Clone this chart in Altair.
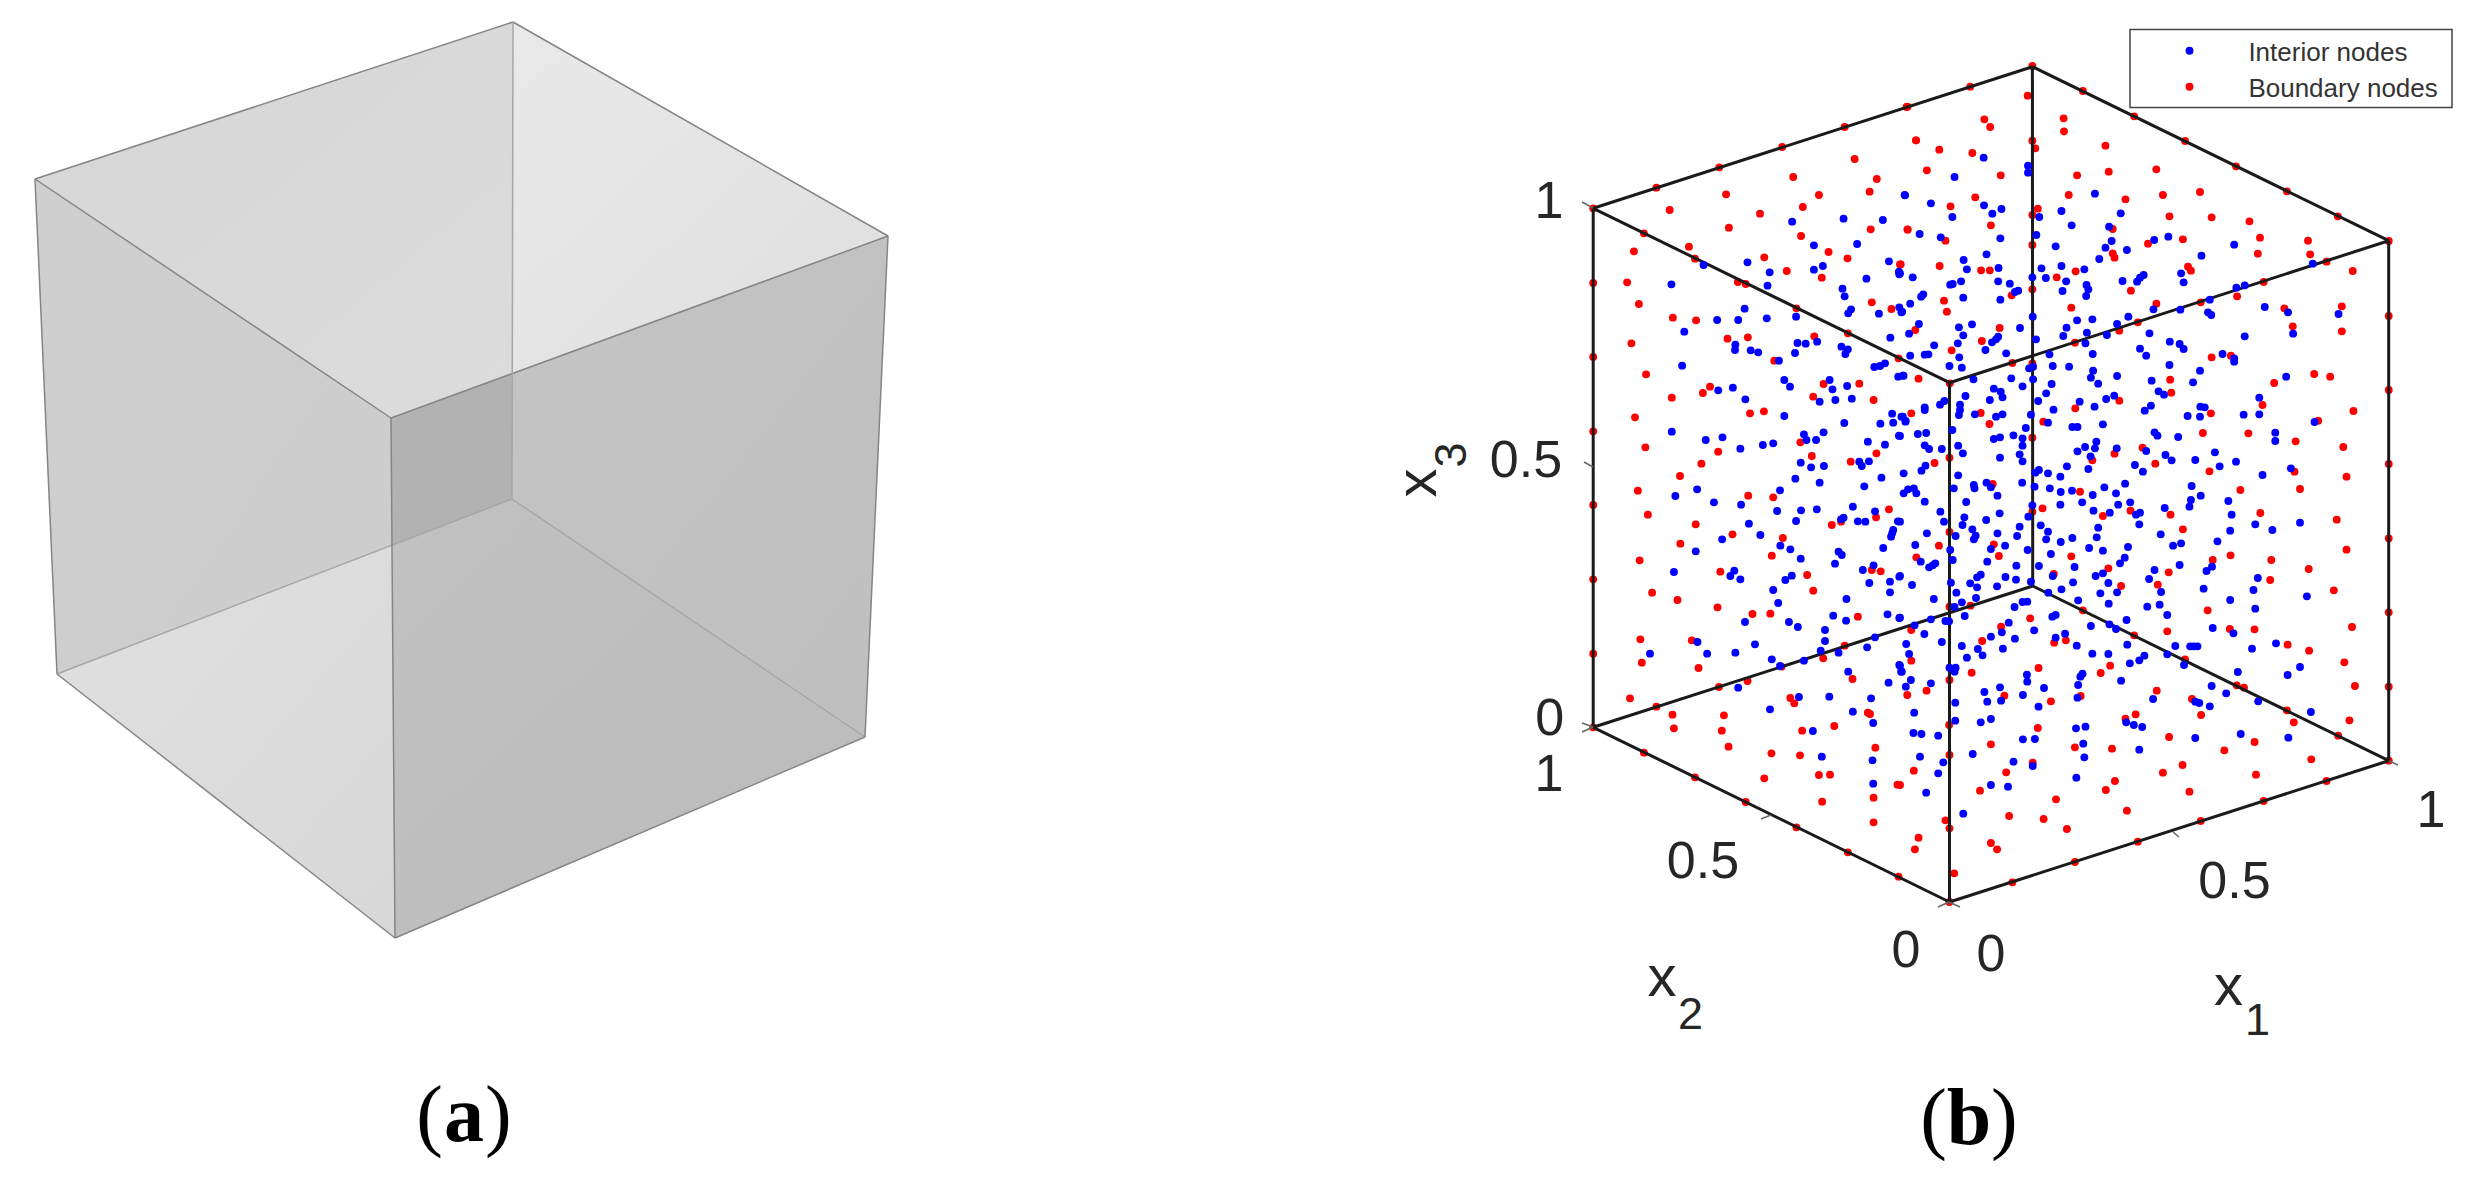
import altair as alt
import pandas as pd

# ---- points read from four enlarged views of the right-hand panel
red_a = [(653,625),(830,563),(1006,502),(1182,441),(1357,381),(795,700),(938,776),(1080,852),(1222,925),(1366,1000),(1508,1075),(653,849),(653,1071),(653,1294),(1533,320),
(1385,477),(1213,531),(1447,537),(1025,583),(1285,585),(1427,575),(1240,621),(867,630),(1120,641),(1033,683),(1235,708),(1430,688),(1533,688),(921,740),(767,754),(1312,756),(1132,772),(1365,775),(1512,793),(1195,813),(1293,833),(748,847),(1058,846),(781,912),(1433,907),(1488,927),(876,953),(941,961),(1272,1009),(1029,1016),(1086,1012),(760,1030),(1160,1082),(801,1123),(1398,1151),(1298,1152),(980,1160),(960,1179),(873,1193),(1269,1190),(1438,1200),(1092,1240),(1131,1234),(770,1252),(799,1342),(1233,1327),(1003,1355),(1265,1368),(1446,1360),(956,1391),(1374,1385),(896,1428),(1557,421)]
blue_a = [(1525,585),(1210,665),(1354,656),(1464,660),(1271,736),(1392,732),(1085,787),(962,795),(1296,798),(1271,809),(1147,817),(1481,784),(1509,815),(1510,823),(1418,836),(872,853),(1141,857),(1351,866),(1357,889),(1077,926),(1375,928),(1367,940),(1510,922),(1516,937),(1453,941),(1221,950),(1000,960),(1059,960),(1139,955),(908,995),(1485,1013),(1280,1025),(1225,1029),(1248,1031),(1051,1034),(1050,1050),(1094,1051),(1115,1057),(1348,1040),(1366,1048),(1359,1062),(1218,1059),(1173,1082),(902,1097),(1440,1101),(1456,1098),(1470,1090),(1507,1130),(1522,1127),(1315,1140),(1188,1140),(1204,1160),(1364,1158),(1323,1168),(1044,1163),(1003,1171),(1079,1198),(1331,1200),(1377,1196),(1287,1205),(1188,1248),(1490,1241),(1520,1250),(1528,1263),(1493,1268),(1457,1271),(1356,1269),(1509,1307),(873,1295),(1243,1303),(1298,1297),(1015,1312),(968,1320),(1250,1320),(1277,1320),(1422,1325),(1470,1334),(1128,1335),(1157,1330),(1065,1346),(1234,1388),(1398,1385),(1425,1384),(1405,1398),(1263,1402),(1299,1398),(1219,1436),(1460,1433)]
red_b = [(18,321),(193,260),(364,198),(503,273),(644,349),(784,423),(924,499),(1064,574),(1204,649),(1344,723),(1173,785),(1000,846),(827,907),(654,967),(481,1028),(309,1089),(137,1150),(1344,948),(1344,1170),(1344,1392),(364,422),(364,645),(364,868),(364,1090),(364,1313),(136,1373),
(351,287),(232,358),(248,381),(450,355),(451,394),(44,421),(108,449),(199,459),(372,445),(565,437),(74,511),(277,526),(487,526),(574,515),(705,508),(464,585),(723,585),(825,576),(207,592),(139,619),(620,598),(379,626),(741,649),(857,652),(961,664),(250,676),(21,689),(585,687),(990,713),(125,722),(1122,722),(778,718),(682,731),(364,735),(1128,763),(984,761),(585,760),(590,773),(1245,813),(109,798),(2,793),(223,811),(247,811),(483,814),(431,832),(792,800),(800,812),(635,872),(307,886),(121,902),(927,889),(705,911),(129,935),(471,923),(1215,919),(1057,925),(274,984),(42,990),(1080,979),(1215,994),(603,992),(225,1023),(142,1051),(857,1072),(910,1067),(1139,1122),(1183,1130),(51,1136),(743,1139),(1029,1149),(746,1178),(603,1202),(997,1215),(482,1225),(855,1240),(31,1240),(222,1239),(1247,1233),(246,1272),(394,1265),(1150,1262),(833,1299),(958,1300),(1088,1324),(1219,1341),(667,1343),(590,1361),(529,1381),(95,1389),(702,1391),(851,1414),(1085,1415),(1228,1430)]
blue_b = [(230,473),(352,497),(352,518),(150,531),(14,586),(536,581),(85,610),(231,616),(279,627),(254,641),(144,651),(444,633),(607,640),(383,651),(472,676),(575,680),(54,702),(112,712),(276,715),(375,705),(582,723),(699,720),(738,710),(428,739),(565,743),(624,750),(919,734),(238,763),(175,780),(548,777),(829,767),(1135,791),(389,805),(444,798),(507,808),(184,808),(271,804),(0,820),(35,832),(364,832),(401,834),(457,844),(612,843),(773,820),(780,847),(670,825),(660,833),(652,845),(270,844),(302,851),(168,844),(145,852),(138,854),(513,855),(518,868),(325,872),(316,876),(447,873),(512,888),(64,883),(58,890),(174,893),(276,899),(925,863),(948,856),(852,899),(28,911),(6,935),(697,928),(771,929),(1003,921),(1067,937),(847,937),(856,945),(1206,942),(365,950),(628,950),(487,961),(529,958),(597,972),(198,973),(52,972),(162,982),(330,984),(458,983),(25,1001),(174,1006),(514,998),(449,1008),(569,1005),(686,1000),(1081,1001),(948,1009),(270,1010),(264,1018),(253,1027),(374,1018),(159,1030),(94,1036),(510,1030),(742,1025),(769,1032),(780,1047),(660,1046),(235,1050),(292,1060),(411,1063),(530,1062),(28,1067),(68,1064),(78,1063),(163,1072),(677,1067),(887,1062),(919,1075),(919,1085),(136,1098),(170,1103),(355,1105),(366,1100),(420,1098),(465,1100),(741,1095),(531,1112),(825,1112),(525,1133),(597,1128),(8,1127),(202,1138),(306,1135),(366,1138),(1062,1130),(692,1142),(806,1147),(545,1151),(417,1152),(337,1159),(258,1166),(277,1175),(711,1174),(726,1184),(402,1180),(180,1188),(282,1192),(988,1193),(247,1200),(589,1187),(567,1197),(122,1203),(494,1205),(380,1203),(110,1214),(165,1214),(68,1222),(68,1230),(165,1230),(690,1217),(673,1232),(535,1220),(422,1229),(826,1220),(838,1222),(162,1245),(206,1243),(282,1243),(264,1250),(360,1244),(791,1248),(825,1250),(945,1244),(988,1243),(4,1250),(15,1265),(1140,1266),(407,1268),(474,1281),(488,1281),(558,1273),(346,1284),(144,1290),(49,1302),(72,1299),(700,1297),(708,1307),(765,1311),(1032,1298),(1032,1323),(258,1317),(275,1312),(312,1306),(337,1315),(337,1337),(540,1325),(0,1308),(68,1336),(80,1347),(160,1337),(115,1347),(509,1341),(596,1345),(536,1345),(488,1354),(677,1353),(866,1357),(173,1360),(329,1363),(524,1369),(275,1373),(730,1365),(747,1381),(337,1384),(812,1380),(924,1385),(70,1397),(59,1412),(646,1395),(879,1399),(459,1399),(518,1407),(1075,1405),(382,1410),(372,1418),(407,1420),(668,1415),(10,1420),(160,1426),(997,1425),(441,1430)]
red_c = [(653,75),(653,298),(653,521),(653,742),(778,32),(1087,47),(1157,52),(806,104),(1481,88),(1445,112),(1321,135),(1347,125),(940,133),(1043,163),(1184,174),(897,191),(1153,227),(783,241),(1009,275),(1433,270),(1458,274),(1252,285),(818,338),(889,360),(1269,332),(1001,382),(1099,402),(1149,401),(1394,410),(785,478),(929,481),(1357,497),(789,548),(948,564),(1297,535),(1180,560),(1005,621),(1085,603),(1379,597),(1205,654),(1216,670),(756,655),(830,680),(875,704),(1019,706),(1422,698),(1428,702),(879,745),(1013,752),(1238,752),(1328,738),(795,818),(1032,800),(1443,803),(1152,820),(1232,826),(1285,885),(1316,884),(1132,895),(938,892),(1505,914),(1438,953),(1294,965),(1080,966),(1438,1027),(1222,1042),(1366,1117),(1508,1190)]
blue_c = [(1287,8),(1412,19),(1176,31),(944,28),(883,48),(991,67),(1067,74),(1380,80),(1168,93),(1235,91),(1279,88),(1442,94),(1221,123),(1089,131),(1121,165),(1347,118),(1354,113),(1394,124),(1415,125),(1506,124),(1493,150),(1490,160),(1487,170),(1014,178),(1177,197),(1205,208),(1465,204),(940,214),(1234,236),(1340,215),(1349,225),(1330,251),(879,276),(1438,256),(1408,270),(1048,272),(1037,288),(1065,298),(1209,287),(1191,300),(1426,309),(1484,305),(1510,290),(1157,330),(1484,337),(1362,357),(1171,369),(1325,407),(1477,403),(1510,414),(1361,422),(1078,426),(1201,426),(1226,441),(1302,450),(1442,472),(1302,483),(945,486),(1106,493),(1420,502),(1290,512),(812,521),(972,521),(1051,518),(1340,518),(1153,538),(1243,542),(1176,558),(1367,575),(1510,555),(1515,575),(1480,608),(1059,623),(1229,651),(1314,650),(1431,655),(1148,688),(1380,695),(1437,729),(1268,753),(1293,830),(1435,841),(1437,911)]
red_d = [(1100,27),(936,30),(495,35),(255,12),(392,85),(364,95),(634,92),(558,108),(744,104),(991,99),(1201,119),(778,148),(136,156),(107,197),(258,193),(1228,209),(272,228),(471,229),(909,226),(1021,240),(860,240),(45,232),(1124,267),(573,265),(739,277),(423,282),(1018,300),(608,318),(709,314),(1193,331),(136,380),(194,377),(503,391),(846,391),(1344,175),(1344,397),(1344,620),(358,415),(278,440),(31,450),(644,466),(735,454),(907,447),(975,448),(1243,441),(226,483),(424,488),(456,481),(1066,494),(1125,512),(31,542),(784,538),(381,564),(578,557),(552,579),(1222,547),(197,578),(136,600),(926,616),(946,623),(1251,618),(73,632),(20,645),(287,647),(497,648),(706,632),(803,657),(415,664),(1064,691),(648,703),(620,716),(828,705),(1083,727),(1236,721),(135,735),(379,744),(740,771),(1205,767),(975,786),(250,793),(481,802),(583,806),(892,811),(136,825),(1131,838),(365,848),(777,855),(38,872),(292,877),(723,878),(979,884),(0,915),(591,903),(566,930),(220,932),(796,935),(429,958),(624,992),(300,1008),(395,1017),(125,1021),(136,1045),(459,1047),(51,1073),(41,1108),(250,1089),(267,1108),(827,1023),(654,1085),(481,1146),(309,1207),(1000,963),(1173,903),(149,1180),(136,1266),(1344,842)]
blue_d = [(10,40),(22,28),(38,25),(45,40),(68,65),(148,25),(203,15),(205,25),(238,8),(250,22),(268,47),(182,66),(336,8),(370,20),(412,25),(442,36),(473,32),(530,45),(562,22),(594,40),(619,11),(802,18),(827,47),(800,60),(796,80),(903,63),(728,84),(600,74),(633,67),(501,67),(441,74),(364,76),(532,92),(577,98),(649,104),(660,98),(111,95),(121,125),(177,112),(172,135),(274,100),(237,120),(353,110),(912,104),(658,133),(387,136),(977,133),(1100,128),(1024,150),(908,152),(199,148),(545,143),(407,155),(0,125),(74,160),(153,168),(208,167),(203,178),(268,160),(322,168),(329,140),(717,163),(402,178),(442,186),(474,174),(541,172),(873,184),(42,195),(138,210),(250,207),(289,197),(351,210),(415,222),(520,204),(558,212),(627,201),(751,197),(773,190),(240,245),(145,240),(57,245),(80,262),(90,256),(97,250),(320,257),(382,258),(480,261),(618,233),(605,250),(769,255),(858,260),(843,273),(700,270),(420,288),(222,284),(212,292),(290,291),(319,299),(538,288),(558,280),(685,297),(984,294),(0,288),(140,308),(193,310),(360,305),(476,307),(573,309),(33,315),(212,322),(267,319),(444,328),(835,326),(972,330),(718,336),(155,338),(408,338),(551,340),(597,337),(1119,349),(93,357),(209,354),(490,361),(908,360),(714,374),(574,371),(680,380),(977,386),(315,381),(337,366),(350,365),(170,367),(150,381),(735,405),(85,418),(178,408),(125,423),(135,424),(0,413),(419,410),(428,405),(299,428),(623,420),(576,433),(594,447),(525,438),(40,436),(860,444),(280,457),(369,451),(250,470),(917,460),(454,461),(67,462),(428,473),(316,476),(115,486),(486,497),(625,494),(17,492),(170,498),(214,507),(283,506),(757,498),(798,499),(808,499),(818,499),(1034,490),(968,506),(25,522),(227,526),(529,521),(573,522),(735,523),(184,533),(672,527),(658,541),(632,550),(0,557),(5,575),(136,563),(153,563),(150,575),(781,555),(1100,561),(929,576),(1066,585),(349,584),(502,581),(350,605),(496,590),(30,600),(608,602),(85,610),(490,615),(16,620),(857,618),(275,622),(396,624),(232,636),(897,640),(338,645),(696,657),(152,668),(240,665),(278,662),(488,653),(812,665),(823,669),(852,679),(985,664),(381,680),(39,698),(1130,696),(152,722),(250,717),(222,727),(622,727),(643,735),(666,741),(510,740),(484,745),(37,759),(59,762),(105,767),(338,778),(371,777),(812,774),(937,762),(1068,773),(504,791),(658,809),(200,822),(507,832),(55,830),(119,847),(312,845),(365,858),(105,880),(485,893),(250,915),(297,920),(72,938),(174,1001)]

# ---- cube corners (a) and (b), in picture pixels
A = dict(TB=(513,22),TL=(35,179),TR=(888,236),TF=(391,418),BB=(512,499),BL=(57,674),BR=(865,737),BF=(395,938),P=(513,373),Q=(392,545))
B = dict(TB=(2032.4,66.7),TL=(1593.2,208.3),TR=(2388.7,240.7),TF=(1949.5,382.7),BB=(2032.7,586),BL=(1593.2,727.3),BR=(2388.7,760.7),BF=(1949.5,902))
EDGES = [("TL","TB"),("TB","TR"),("TR","TF"),("TF","TL"),("BL","BB"),("BB","BR"),("BR","BF"),("BF","BL"),("TL","BL"),("TB","BB"),("TR","BR"),("TF","BF")]
BACK = {("BL","BB"),("BB","BR"),("TB","BB")}
REGIONS = [(("TL","TB","P","TF"),"#d6d6d6","#dcdcdc"),(("TB","TR","P"),"#e9e9e9","#dfdfdf"),(("TL","TF","Q","BL"),"#cfcfcf","#cdcdcd"),(("BL","Q","BF"),"#e0e0e0","#d8d8d8"),
           (("TF","P","BB","Q"),"#b2b2b2","#b2b2b2"),(("P","TR","BR","BB"),"#c4c4c4","#bfbfbf"),(("Q","BB","BR","BF"),"#c1c1c1","#bbbbbb")]
TICKS = [(1582,202,1593,208),(1584,462,1593,467),(1582,723,1593,727),(1582,732,1593,727),(1761,819,1771,815),(1949,902,1960,907),(1938,907,1949,902),(2173,832,2179,837),(2389,761,2398,765)]
TICK_LABELS = [("1",1549,202),("0.5",1526,461),("0",1549.6,719),("1",1549,775),("0.5",1703,862),("0",1906,951),("0",1991,955),("0.5",2234.5,882),("1",2431,811)]
AXIS_X = [("x",1662,979),("x",2228.6,988)]
AXIS_SUB = [("2",1690.6,1014.5),("1",2257.6,1020.5)]
LEGEND_BOX = (2130,29.5,2452,107.5)
LEGEND = [("Interior nodes","#0000ff",2189.5,50.7,53),("Boundary nodes","#ff0000",2189.5,86.7,89.3)]

def conv(pts, x0, y0, sx):
    return [{"x": x0 + p[0] / sx, "y": y0 + p[1] / 3.0} for p in pts]

red = pd.DataFrame(conv(red_a,1360,0,2.8)+conv(red_b,1900,0,2.75)+conv(red_c,1360,480,2.8)+conv(red_d,1900,480,2.75))
blue = pd.DataFrame(conv(blue_a,1360,0,2.8)+conv(blue_b,1900,0,2.75)+conv(blue_c,1360,480,2.8)+conv(blue_d,1900,480,2.75))

def band(poly):
    xs = sorted({p[0] for p in poly})
    rows = []
    n = len(poly)
    for x in xs:
        ys = []
        for i in range(n):
            (x1,y1),(x2,y2) = poly[i], poly[(i+1)%n]
            if min(x1,x2) <= x <= max(x1,x2):
                if x1 == x2:
                    ys += [y1,y2]
                else:
                    ys.append(y1+(y2-y1)*(x-x1)/(x2-x1))
        rows.append((x,min(ys),max(ys)))
    return rows

def edges(cube, front, back):
    out = []
    for a,b in EDGES:
        out.append({"x":cube[a][0],"y":cube[a][1],"x2":cube[b][0],"y2":cube[b][1],"c":back if (a,b) in BACK else front})
    return out

X = alt.X("x:Q", scale=alt.Scale(domain=[8,2462], nice=False, zero=False), axis=None)
Y = alt.Y("y:Q", scale=alt.Scale(domain=[1171,8], nice=False, zero=False), axis=None)
CS = alt.Color("c:N", scale=None)

def rules(df, w):
    return alt.Chart(df).mark_rule(strokeWidth=w).encode(x=X, y=Y, x2="x2:Q", y2="y2:Q", color=CS)

def texts(rows, size, font="Liberation Sans", color="#262626", angle=0, align="center", weight="normal"):
    df = pd.DataFrame(rows, columns=["t","x","y"])
    return alt.Chart(df).mark_text(fontSize=size, font=font, color=color, angle=angle, align=align, baseline="middle", fontWeight=weight).encode(x=X, y=Y, text="t:N")

def dots(df, color):
    return alt.Chart(df).mark_circle(size=62, color=color, opacity=1).encode(x=X, y=Y)

def region(names, c0, c1):
    df = pd.DataFrame(band([A[k] for k in names]), columns=["x","y","y2"])
    grad = alt.LinearGradient(gradient="linear", x1=0, y1=0, x2=1, y2=1,
                              stops=[alt.GradientStop(color=c0, offset=0), alt.GradientStop(color=c1, offset=1)])
    return alt.Chart(df).mark_area(color=grad, opacity=1).encode(x=X, y=Y, y2="y2:Q")

edges_a = rules(pd.DataFrame(edges(A,"#858585","#a6a6a6")), 1.5)
edges_b = rules(pd.DataFrame(edges(B,"#1a1a1a","#1a1a1a")), 3)
ticks = rules(pd.DataFrame([{"x":t[0],"y":t[1],"x2":t[2],"y2":t[3],"c":"#666666"} for t in TICKS]), 1.5)

bx0,by0,bx1,by1 = LEGEND_BOX
box = alt.Chart(pd.DataFrame([{"x":bx0,"y":by0,"x2":bx1,"y2":by1}])).mark_rect(fill="white", stroke="#444444", strokeWidth=1.5).encode(x=X, y=Y, x2="x2:Q", y2="y2:Q")
leg_dots = alt.Chart(pd.DataFrame([{"x":l[2],"y":l[3],"c":l[1]} for l in LEGEND])).mark_circle(size=62, opacity=1).encode(x=X, y=Y, color=CS)
leg_text = texts([(l[0],2248.4,l[4]) for l in LEGEND], 26, color="#333333", align="left")

chart = alt.layer(
    *[region(*r) for r in REGIONS], edges_a, dots(red,"#ff0000"), edges_b, dots(blue,"#0000ff"), ticks,
    box, leg_dots, leg_text,
    texts(TICK_LABELS, 52),
    texts(AXIS_X, 58), texts(AXIS_SUB, 45),
    texts([("x",1418.6,483)], 58, angle=270), texts([("3",1451.6,455)], 45, angle=270),
    texts([("(",443,1117)], 80, font="Liberation Serif", color="#000000", align="right"),
    texts([("a",464,1117)], 80, font="Liberation Serif", color="#000000", weight="bold"),
    texts([(")",485,1117)], 80, font="Liberation Serif", color="#000000", align="left"),
    texts([("(",1947,1120)], 80, font="Liberation Serif", color="#000000", align="right"),
    texts([("b",1969,1120)], 80, font="Liberation Serif", color="#000000", weight="bold"),
    texts([(")",1991,1120)], 80, font="Liberation Serif", color="#000000", align="left"),
).properties(width=2454, height=1163, padding=0).configure_view(stroke=None)

chart.save("out.html", embed_options={"renderer": "svg", "actions": False})
